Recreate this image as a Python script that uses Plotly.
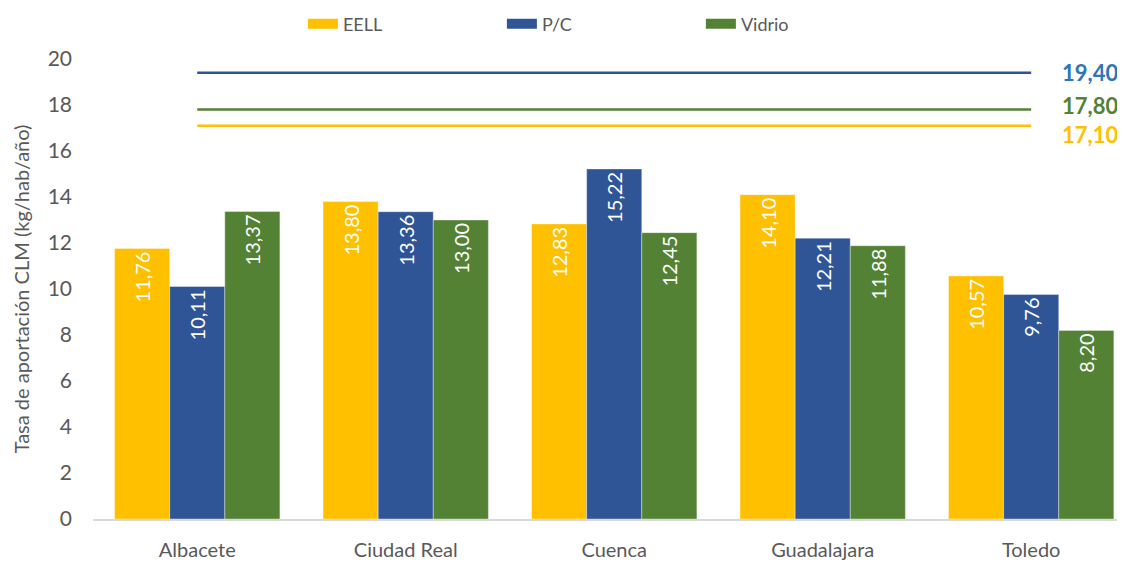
import plotly.graph_objects as go

# Data
provincias = ["Albacete", "Ciudad Real", "Cuenca", "Guadalajara", "Toledo"]
eell = [11.76, 13.80, 12.83, 14.10, 10.57]
pc = [10.11, 13.36, 15.22, 12.21, 9.76]
vidrio = [13.37, 13.00, 12.45, 11.88, 8.20]

# Objetivos (líneas de referencia)
obj_series = ["P/C", "Vidrio", "EELL"]
obj_valores = [19.40, 17.80, 17.10]

series = ["EELL", "P/C", "Vidrio"]
colores = {"EELL": "#FFC000", "P/C": "#2F5597", "Vidrio": "#548235"}
color_etiqueta = {"EELL": "#FFC000", "P/C": "#2E75B6", "Vidrio": "#548235"}
# small vertical nudges so the target labels don't collide
nudge = {"P/C": 0, "Vidrio": 4, "EELL": -9}

FONT = "Lato"


def fmt(v):
    return f"{v:.2f}".replace(".", ",")


fig = go.Figure()

for nombre, valores in zip(series, [eell, pc, vidrio]):
    fig.add_trace(go.Bar(
        x=provincias, y=valores, name=nombre,
        marker=dict(color=colores[nombre], line=dict(width=0.6, color="rgba(255,255,255,0.6)")),
        text=[fmt(v) for v in valores],
        textposition="inside", insidetextanchor="end", textangle=-90,
        textfont=dict(color="white", size=20, family=FONT),
        constraintext="none",
        showlegend=False,
    ))

# legend swatches (wide rectangles like the original)
for nombre in series:
    fig.add_trace(go.Scatter(
        x=[None], y=[None], mode="lines", name=nombre,
        line=dict(color=colores[nombre], width=10),
    ))

# reference lines from first to last province
for nombre, valor in zip(obj_series, obj_valores):
    fig.add_trace(go.Scatter(
        x=[provincias[0], provincias[-1]], y=[valor, valor], mode="lines",
        line=dict(color=colores[nombre], width=2.5),
        showlegend=False, hoverinfo="skip",
    ))
    fig.add_annotation(
        x=4.28, y=valor, xref="x", yref="y", text=f"<b>{fmt(valor)}</b>",
        showarrow=False, yshift=nudge[nombre],
        font=dict(size=22, color=color_etiqueta[nombre], family=FONT),
    )

# page body has an 8px margin, so the figure is a bit smaller than the window
fig.update_layout(
    width=1117, height=554,
    margin=dict(l=85, r=0, t=51, b=43, autoexpand=False),
    plot_bgcolor="white", paper_bgcolor="white",
    barmode="group", bargap=0.207, bargroupgap=0,
    font=dict(family=FONT, color="#595959"),
    legend=dict(
        orientation="h", x=0.264, y=0.971, xref="container", yref="container",
        xanchor="left", yanchor="middle",
        entrywidth=154, entrywidthmode="pixels",
        font=dict(size=18, color="#595959", family=FONT),
    ),
)

fig.update_xaxes(
    range=[-0.5, 4.45], showline=True, linecolor="#D9D9D9", linewidth=1.5,
    showgrid=False, ticks="", tickfont=dict(size=20, color="#595959"),
    ticklabelstandoff=12, automargin=False,
)
fig.update_yaxes(
    range=[0, 20], dtick=2, showgrid=False, zeroline=False, automargin=False,
    tickfont=dict(size=21, color="#595959"), ticklabelstandoff=20,
    title=dict(text="Tasa de aportación CLM (kg/hab/año)", font=dict(size=20, color="#595959"), standoff=12),
)

fig.write_html("out.html")
